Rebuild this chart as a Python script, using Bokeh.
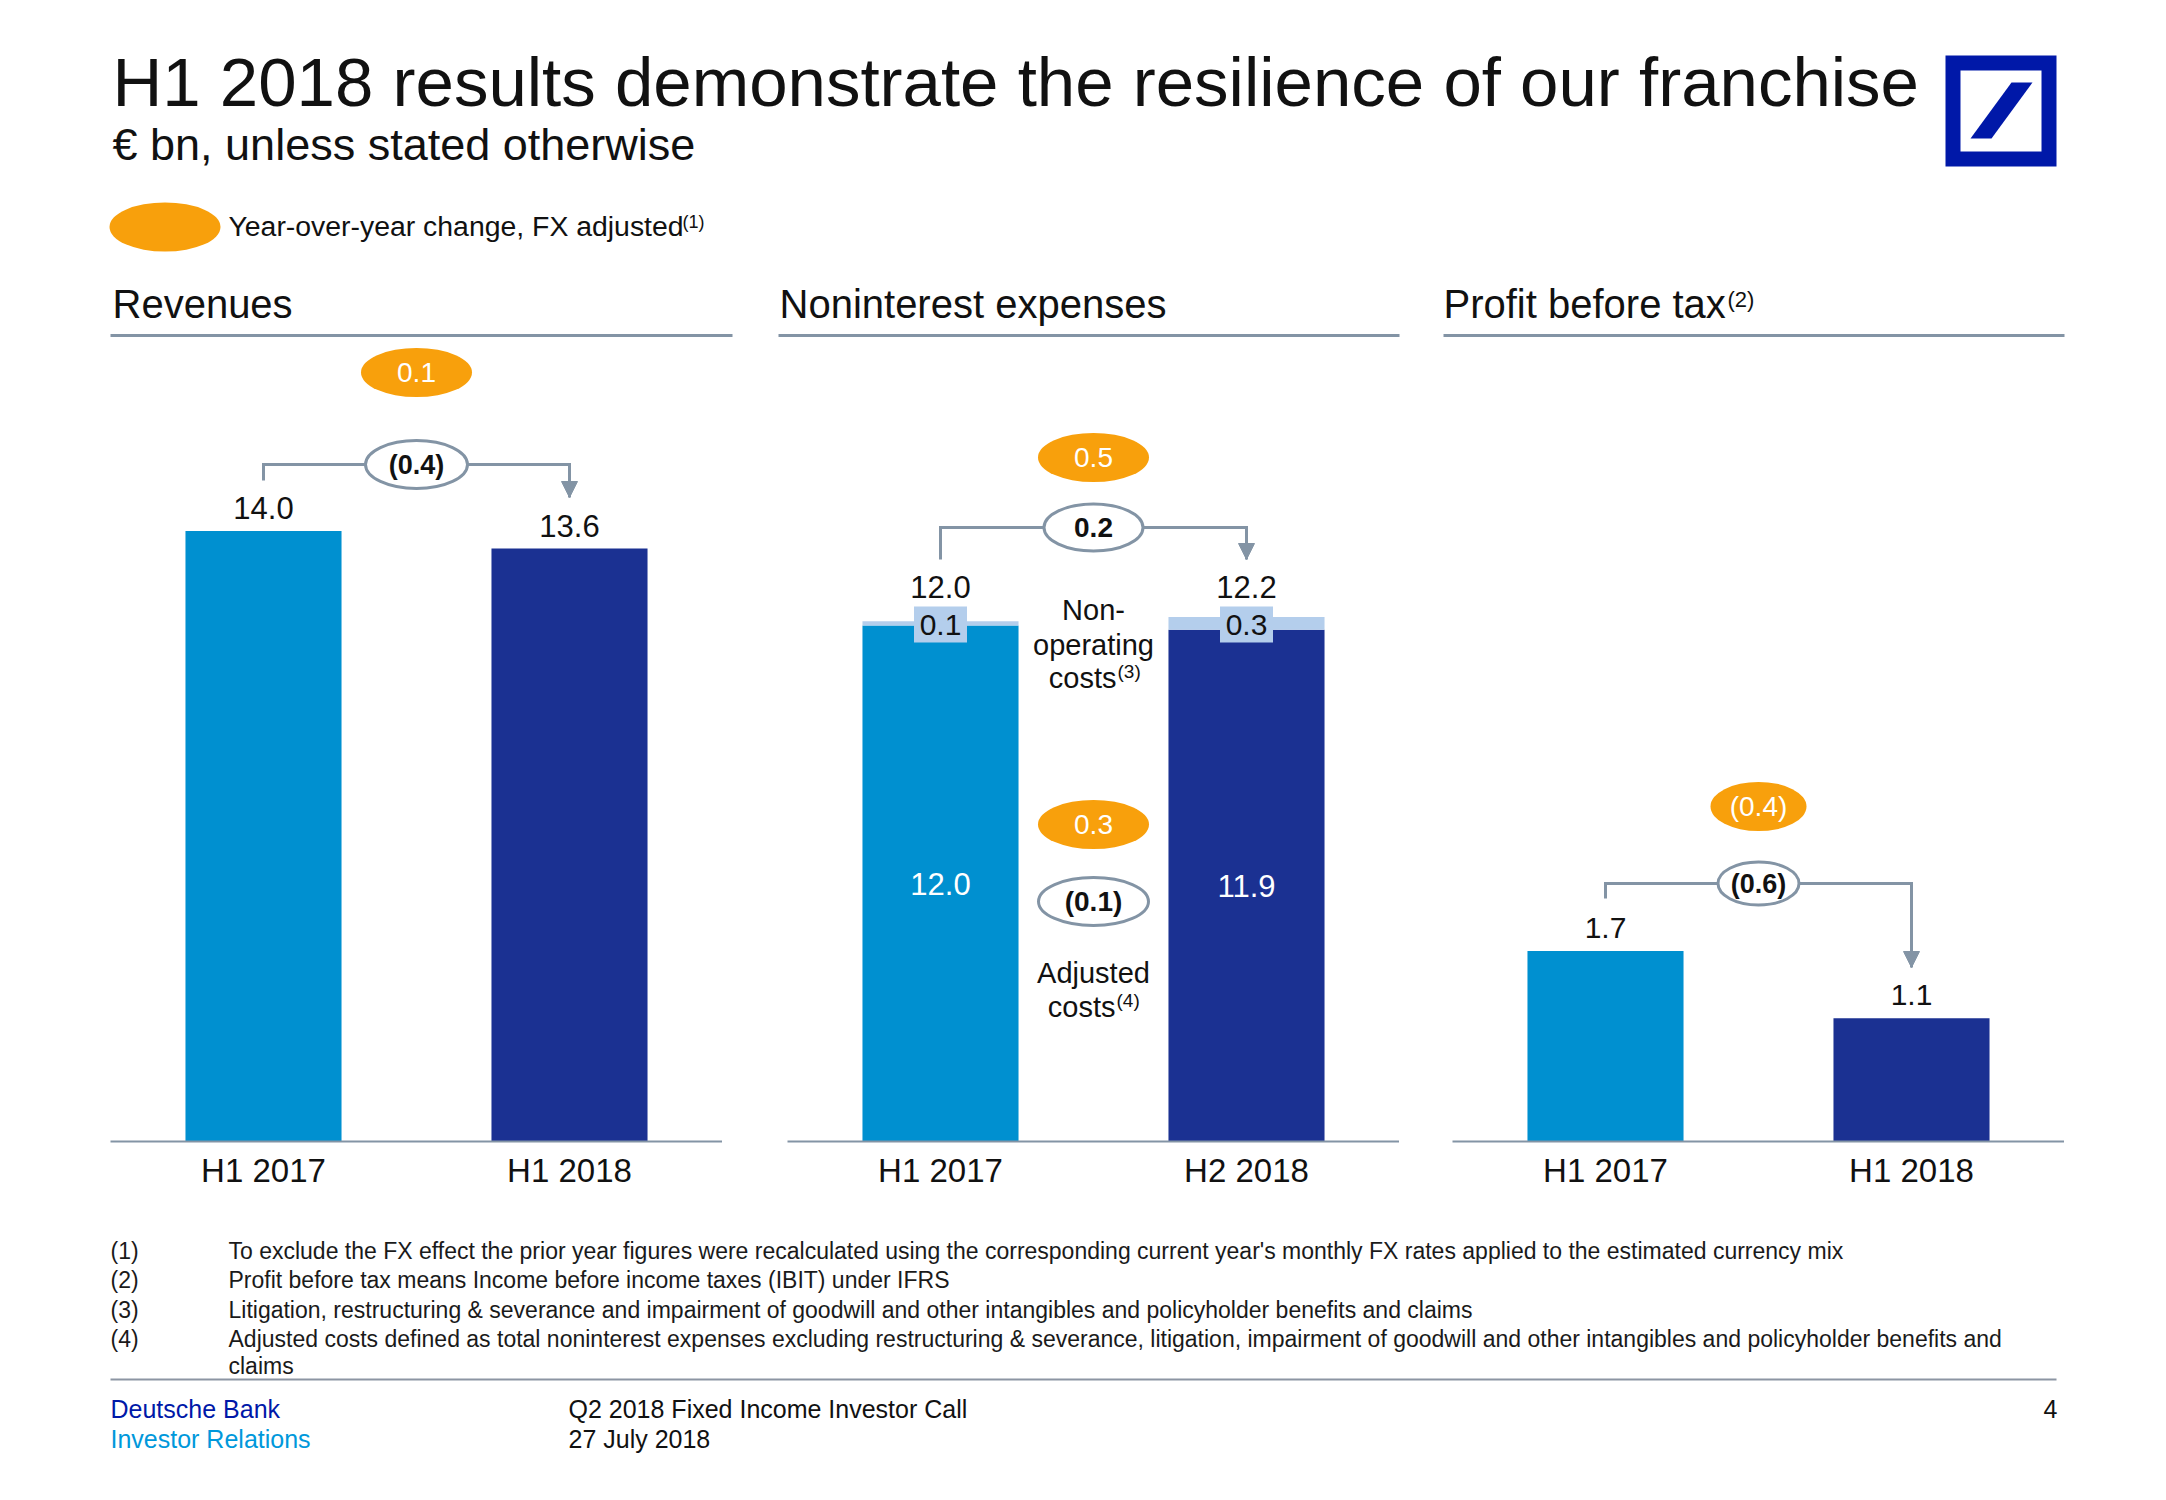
from bokeh.plotting import figure
from bokeh.models import Range1d, FactorRange, Arrow, NormalHead, Spacer
from bokeh.layouts import column, row
from bokeh.core.properties import value
from bokeh.embed import file_html
from bokeh.resources import INLINE

# ---------------- data ----------------
title_text = "H1 2018 results demonstrate the resilience of our franchise"
subtitle_text = "€ bn, unless stated otherwise"
legend_text = "Year-over-year change, FX adjusted"
panel_titles = ["Revenues", "Noninterest expenses", "Profit before tax"]

rev_cats = ["H1 2017", "H1 2018"]
rev_vals = [14.0, 13.6]
rev_yoy = -0.4
rev_yoy_fx = 0.1

nie_cats = ["H1 2017", "H2 2018"]
nie_adjusted = [12.0, 11.9]
nie_nonop = [0.1, 0.3]
nie_totals = [12.0, 12.2]
nie_yoy = 0.2
nie_yoy_fx = 0.5
adj_yoy = -0.1
adj_yoy_fx = 0.3

pbt_cats = ["H1 2017", "H1 2018"]
pbt_vals = [1.7, 1.1]
pbt_yoy = -0.6
pbt_yoy_fx = -0.4

footnote_marks = ["(1)", "(2)", "(3)", "(4)", ""]
footnote_lines = [
    "To exclude the FX effect the prior year figures were recalculated using the corresponding current year's monthly FX rates applied to the estimated currency mix",
    "Profit before tax means Income before income taxes (IBIT) under IFRS",
    "Litigation, restructuring & severance and impairment of goodwill and other intangibles and policyholder benefits and claims",
    "Adjusted costs defined as total noninterest expenses excluding restructuring & severance, litigation, impairment of goodwill and other intangibles and policyholder benefits and",
    "claims",
]
footer_left = ["Deutsche Bank", "Investor Relations"]
footer_mid = ["Q2 2018 Fixed Income Investor Call", "27 July 2018"]
page_number = "4"

# ---------------- style ----------------
FONT = "Liberation Sans"
LIGHT = "#0090D0"
DARK = "#1B3192"
NONOP = "#B4CEEC"
ORANGE = "#F8A00C"
GRAY = "#8394A5"
DBBLUE = "#0018A8"
IRBLUE = "#0098DB"
BLACK = "#111111"

BASE = 1141  # screen y of the chart baselines
TOP = 345    # screen y of the chart tops


def fmt(v):
    return f"({abs(v):.1f})" if v < 0 else f"{v:.1f}"


def txt(p, x, y, s, size, color=BLACK, align="left", style="normal",
        x_offset=0):
    p.text(x=[x], y=[y], text=[s], text_font=value(FONT),
           text_font_size=value(f"{size}px"), text_color=color,
           text_align=align, text_baseline="middle",
           text_font_style=style, x_offset=x_offset)


def blank_fig(width, y0, y1):
    p = figure(width=width, height=y1 - y0, x_range=Range1d(0, width),
               y_range=Range1d(y1, y0), output_backend="svg",
               toolbar_location=None, x_axis_location=None,
               y_axis_location=None, min_border=0, outline_line_color=None)
    p.grid.visible = False
    return p


def make_panel(cats, scale):
    p = figure(width=612, height=855, x_range=FactorRange(*cats),
               y_range=Range1d(0, (BASE - TOP) / scale), output_backend="svg",
               toolbar_location=None, y_axis_location=None, min_border=0,
               min_border_bottom=59, outline_line_color=None)
    p.xgrid.visible = False
    p.ygrid.visible = False
    ax = p.xaxis[0]
    ax.axis_line_color = GRAY
    ax.axis_line_width = 2
    ax.major_tick_line_color = None
    ax.minor_tick_line_color = None
    ax.major_label_text_font = FONT
    ax.major_label_text_font_size = "33px"
    ax.major_label_text_color = BLACK
    ax.major_label_standoff = 4
    return p


def bracket(p, y_left, y_bar, y_tip):
    p.line(x=[0.5, 0.5, 1.5, 1.5], y=[y_left, y_bar, y_bar, y_tip],
           line_color=GRAY, line_width=3, line_join="miter")
    p.add_layout(Arrow(x_start=1.5, y_start=y_bar, x_end=1.5, y_end=y_tip,
                       line_color=GRAY, line_width=3,
                       end=NormalHead(size=16, fill_color=GRAY,
                                      line_color=GRAY, line_width=1)))


def bubble(p, y, w, h, label, size, orange):
    if orange:
        p.ellipse(x=[1.0], y=[y], width=w, height=h, width_units="screen",
                  height_units="screen", fill_color=ORANGE, line_color=None)
        txt(p, 1.0, y, label, size, color="white", align="center")
    else:
        p.ellipse(x=[1.0], y=[y], width=w, height=h, width_units="screen",
                  height_units="screen", fill_color="white",
                  line_color=GRAY, line_width=3)
        txt(p, 1.0, y, label, size, align="center", style="bold")


# ---------------- header ----------------
hdr = blank_fig(2160, 0, 345)
txt(hdr, 112, 82, title_text, 69)
txt(hdr, 112, 144, subtitle_text, 45)
hdr.ellipse(x=[164.5], y=[226.5], width=111, height=49, fill_color=ORANGE,
            line_color=None)
txt(hdr, 228, 225, legend_text, 28.4)
txt(hdr, 682, 221, "(1)", 18)
for xx, t in zip([112, 779, 1443], panel_titles):
    txt(hdr, xx, 303, t, 40)
txt(hdr, 1727, 299, "(2)", 22)
hdr.segment(x0=[110, 778, 1443], x1=[732, 1399, 2064], y0=[335] * 3,
            y1=[335] * 3, line_color=GRAY, line_width=3)
# logo
hdr.quad(left=[1945], right=[2056], top=[55], bottom=[166],
         fill_color=DBBLUE, line_color=None)
hdr.quad(left=[1960], right=[2041], top=[70], bottom=[151],
         fill_color="white", line_color=None)
hdr.patch(x=[2011, 2032, 1991, 1970], y=[82, 82, 138, 138],
          fill_color=DBBLUE, line_color=None)

# ---------------- panel 1: revenues ----------------
S1 = 43.6
p1 = make_panel(rev_cats, S1)
p1.vbar(x=rev_cats, top=rev_vals, width=0.51, fill_color=[LIGHT, DARK],
        line_color=None)
p1.text(x=rev_cats, y=[v + 23 / S1 for v in rev_vals],
        text=[f"{v:.1f}" for v in rev_vals], text_font=value(FONT),
        text_font_size=value("31px"), text_color=BLACK, text_align="center",
        text_baseline="middle")
bracket(p1, (BASE - 480) / S1, (BASE - 464) / S1, (BASE - 497) / S1)
bubble(p1, (BASE - 372) / S1, 111, 49, fmt(rev_yoy_fx), 28, True)
bubble(p1, (BASE - 464) / S1, 102, 48, fmt(rev_yoy), 27, False)

# ---------------- panel 2: noninterest expenses ----------------
S2 = 43.0
p2 = make_panel(nie_cats, S2)
p2.vbar(x=nie_cats, top=nie_adjusted, width=0.51, fill_color=[LIGHT, DARK],
        line_color=None)
p2.vbar(x=nie_cats, bottom=nie_adjusted,
        top=[a + n for a, n in zip(nie_adjusted, nie_nonop)], width=0.51,
        fill_color=NONOP, line_color=None)
ybox = (BASE - 624) / S2
p2.rect(x=nie_cats, y=[ybox] * 2, width=53, height=36, width_units="screen",
        height_units="screen", fill_color=NONOP, line_color=None)
p2.text(x=nie_cats, y=[ybox] * 2, text=[f"{v:.1f}" for v in nie_nonop],
        text_font=value(FONT), text_font_size=value("30px"),
        text_color=BLACK, text_align="center", text_baseline="middle")
p2.text(x=nie_cats, y=[(BASE - 586) / S2] * 2,
        text=[f"{v:.1f}" for v in nie_totals], text_font=value(FONT),
        text_font_size=value("31px"), text_color=BLACK, text_align="center",
        text_baseline="middle")
p2.text(x=nie_cats, y=[a / 2 for a in nie_adjusted],
        text=[f"{v:.1f}" for v in nie_adjusted], text_font=value(FONT),
        text_font_size=value("31px"), text_color="white", text_align="center",
        text_baseline="middle")
bracket(p2, (BASE - 559) / S2, (BASE - 527) / S2, (BASE - 559) / S2)
bubble(p2, (BASE - 457) / S2, 111, 49, fmt(nie_yoy_fx), 28, True)
bubble(p2, (BASE - 527) / S2, 99, 47, fmt(nie_yoy), 28, False)
txt(p2, 1.0, (BASE - 609) / S2, "Non-", 29, align="center")
txt(p2, 1.0, (BASE - 644) / S2, "operating", 29, align="center")
txt(p2, 1.0, (BASE - 677) / S2, "costs", 29, align="right", x_offset=23)
txt(p2, 1.0, (BASE - 671) / S2, "(3)", 19, align="left", x_offset=24)
bubble(p2, (BASE - 824) / S2, 111, 49, fmt(adj_yoy_fx), 28, True)
bubble(p2, (BASE - 901) / S2, 110, 48, fmt(adj_yoy), 28, False)
txt(p2, 1.0, (BASE - 972) / S2, "Adjusted", 29, align="center")
txt(p2, 1.0, (BASE - 1006) / S2, "costs", 29, align="right", x_offset=22)
txt(p2, 1.0, (BASE - 1000) / S2, "(4)", 19, align="left", x_offset=23)

# ---------------- panel 3: profit before tax ----------------
S3 = 112.0
p3 = make_panel(pbt_cats, S3)
p3.vbar(x=pbt_cats, top=pbt_vals, width=0.51, fill_color=[LIGHT, DARK],
        line_color=None)
p3.text(x=pbt_cats, y=[v + 23 / S3 for v in pbt_vals],
        text=[f"{v:.1f}" for v in pbt_vals], text_font=value(FONT),
        text_font_size=value("30px"), text_color=BLACK, text_align="center",
        text_baseline="middle")
bracket(p3, (BASE - 898) / S3, (BASE - 883) / S3, (BASE - 967) / S3)
bubble(p3, (BASE - 806) / S3, 96, 49, fmt(pbt_yoy_fx), 28, True)
bubble(p3, (BASE - 883) / S3, 81, 43, fmt(pbt_yoy), 27, False)

# ---------------- footer ----------------
ftr = blank_fig(2160, 1200, 1490)
for yy, m, t in zip([1250, 1279, 1309, 1338, 1365], footnote_marks,
                    footnote_lines):
    if m:
        txt(ftr, 110, yy, m, 23, color="#1A1A1A")
    txt(ftr, 228, yy, t, 23, color="#1A1A1A")
ftr.segment(x0=[110], x1=[2056], y0=[1379], y1=[1379], line_color="#8C95A3",
            line_width=2)
txt(ftr, 110, 1408, footer_left[0], 25, color=DBBLUE)
txt(ftr, 110, 1438, footer_left[1], 25, color=IRBLUE)
txt(ftr, 568, 1408, footer_mid[0], 25, color=BLACK)
txt(ftr, 568, 1438, footer_mid[1], 25, color=BLACK)
txt(ftr, 2057, 1408, page_number, 25, color=BLACK, align="right")

layout = column(
    hdr,
    row(Spacer(width=110), p1, Spacer(width=65), p2, Spacer(width=53), p3),
    ftr,
)

open("out.html", "w").write(file_html(layout, INLINE))
